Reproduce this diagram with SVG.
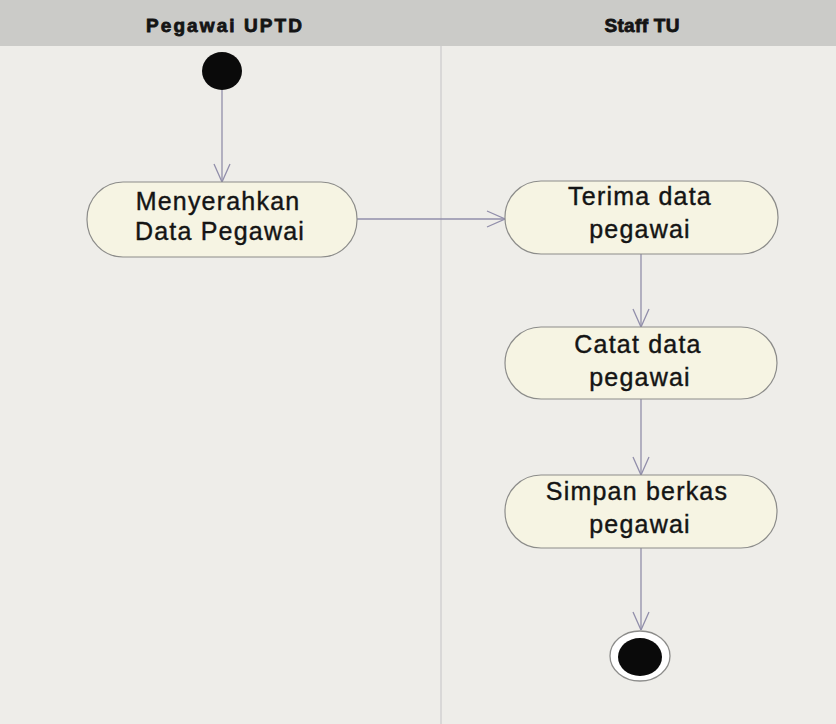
<svg xmlns="http://www.w3.org/2000/svg" width="836" height="724" viewBox="0 0 836 724">
<style>
.bg{fill:#eeede9}
.hdr{fill:#cbcbc8}
.lane{stroke:#c4c3c6;stroke-width:1}
.ht{font-family:"Liberation Sans",Arial,sans-serif;font-weight:bold;font-size:19px;fill:#141414;stroke:#141414;stroke-width:0.8;text-anchor:middle}
.act{fill:#f6f4e3;stroke:#8c8c8a;stroke-width:1.2}
.t{font-family:"Liberation Sans",Arial,sans-serif;font-size:25px;fill:#141414;stroke:#141414;stroke-width:0.4;text-anchor:middle;letter-spacing:1.2px}
.c{stroke:#918eaa;stroke-width:1.3;fill:none}
</style>
<defs>
<marker id="ah" viewBox="0 0 20 20" refX="20" refY="10" markerWidth="20" markerHeight="20" markerUnits="userSpaceOnUse" orient="auto">
<path d="M2,2 L20,10 L2,18" fill="none" stroke="#918eaa" stroke-width="1.3"/>
</marker>
</defs>
<rect class="bg" x="0" y="0" width="836" height="724"/>
<rect class="hdr" x="0" y="0" width="836" height="46"/>
<line class="lane" x1="441" y1="46" x2="441" y2="724"/>
<g id="lane-pegawai"><text class="ht" x="224" y="32" textLength="156" lengthAdjust="spacing">Pegawai UPTD</text></g>
<g id="lane-staff"><text class="ht" x="642" y="32" textLength="75" lengthAdjust="spacing">Staff TU</text></g>
<g id="connectors">
<line class="c" x1="222" y1="90" x2="222" y2="182" marker-end="url(#ah)"/>
<line class="c" x1="357" y1="219" x2="505" y2="219" marker-end="url(#ah)"/>
<line class="c" x1="641" y1="254" x2="641" y2="327" marker-end="url(#ah)"/>
<line class="c" x1="641" y1="399" x2="641" y2="475" marker-end="url(#ah)"/>
<line class="c" x1="641" y1="548" x2="641" y2="630" marker-end="url(#ah)"/>
</g>
<g id="start"><ellipse cx="222" cy="71" rx="20" ry="19" fill="#0a0a0a"/></g>
<g id="menyerahkan">
<rect class="act" x="87" y="182" width="270" height="75" rx="36" ry="37"/>
<text class="t" x="218" y="210">Menyerahkan</text>
<text class="t" x="220" y="240">Data Pegawai</text>
</g>
<g id="terima">
<rect class="act" x="505" y="181" width="273" height="73" rx="36" ry="36"/>
<text class="t" x="640" y="205">Terima data</text>
<text class="t" x="640" y="238">pegawai</text>
</g>
<g id="catat">
<rect class="act" x="505" y="327" width="272" height="72" rx="36" ry="36"/>
<text class="t" x="638" y="353">Catat data</text>
<text class="t" x="640" y="386">pegawai</text>
</g>
<g id="simpan">
<rect class="act" x="505" y="475" width="272" height="73" rx="36" ry="36"/>
<text class="t" x="637" y="500">Simpan berkas</text>
<text class="t" x="640" y="533">pegawai</text>
</g>
<g id="end">
<ellipse cx="640" cy="656" rx="30" ry="25" fill="#ffffff" stroke="#8c8c8a" stroke-width="1.3"/>
<ellipse cx="640" cy="657" rx="22" ry="19" fill="#0a0a0a"/>
</g>
</svg>
